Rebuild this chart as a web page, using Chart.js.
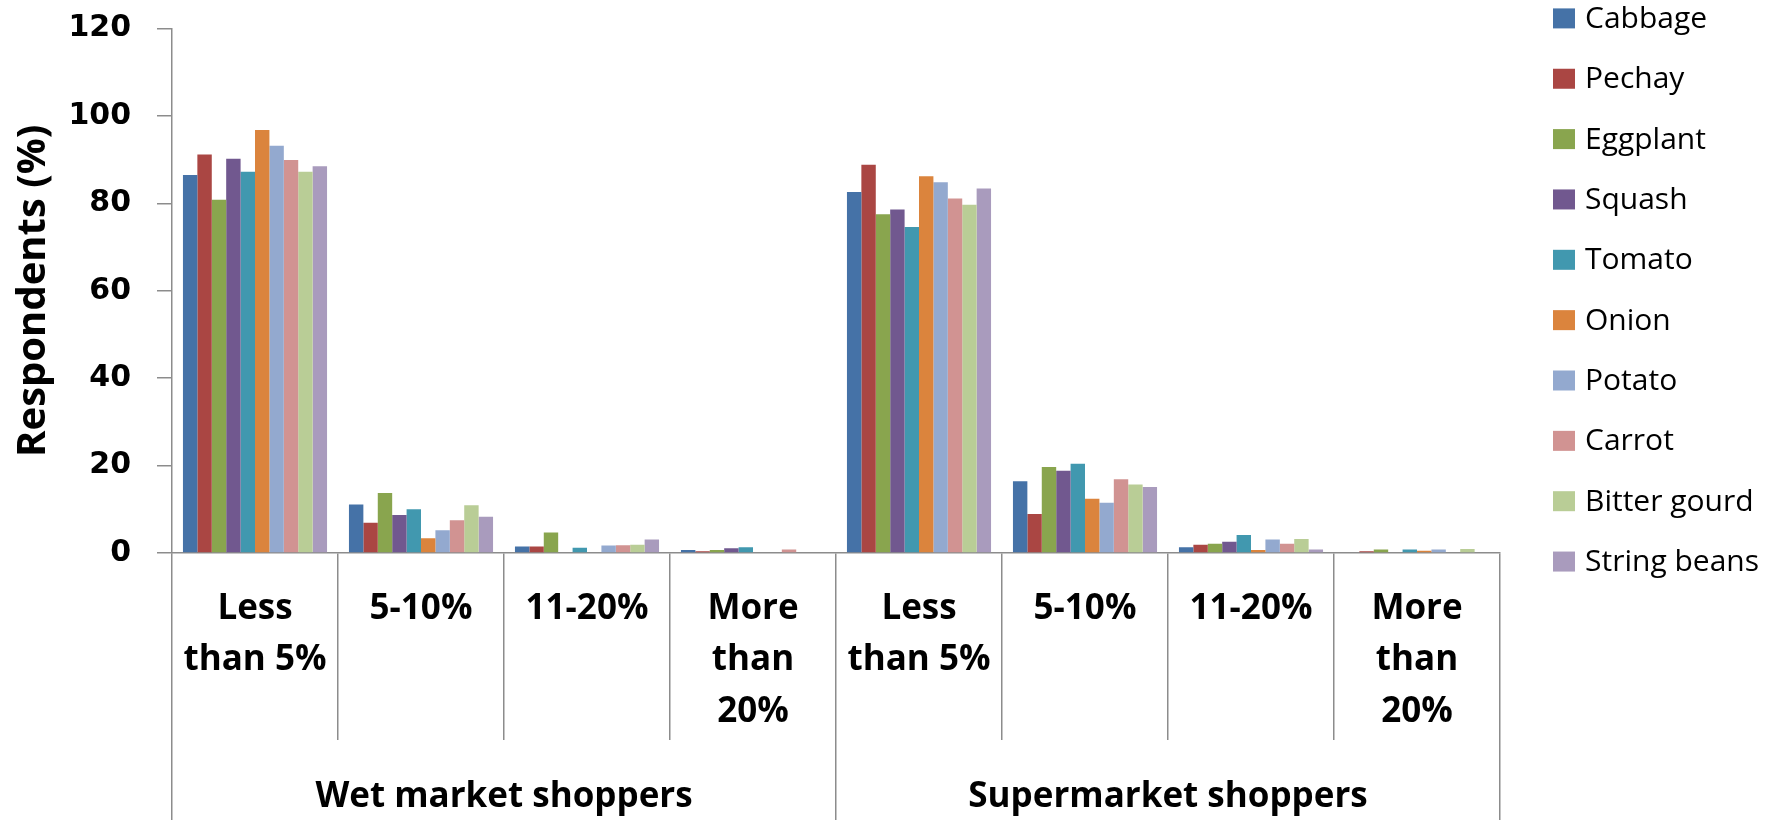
<!DOCTYPE html>
<html>
<head>
<meta charset="utf-8">
<script src="https://cdn.jsdelivr.net/npm/chart.js@4.4.1/dist/chart.umd.min.js"></script>
<style>
  html, body { margin: 0; padding: 0; background: #ffffff; }
  #wrap { width: 1785px; height: 820px; position: relative; }
</style>
</head>
<body>
<div id="wrap"><canvas id="c" width="1785" height="820"></canvas></div>
<script>
// ---- Data ----
const categories = [
  ["Less", "than 5%"], ["5-10%"], ["11-20%"], ["More", "than", "20%"],
  ["Less", "than 5%"], ["5-10%"], ["11-20%"], ["More", "than", "20%"]
];
const groups = ["Wet market shoppers", "Supermarket shoppers"];
const seriesNames = ["Cabbage", "Pechay", "Eggplant", "Squash", "Tomato", "Onion", "Potato", "Carrot", "Bitter gourd", "String beans"];
const cabbage     = [86.5, 11.1, 1.5, 0.7, 82.6, 16.4, 1.3, 0];
const pechay      = [91.2, 6.9, 1.5, 0.4, 88.8, 8.9, 1.9, 0.4];
const eggplant    = [80.8, 13.7, 4.7, 0.7, 77.5, 19.7, 2.1, 0.8];
const squash      = [90.2, 8.7, 0, 1.1, 78.6, 18.8, 2.6, 0];
const tomato      = [87.2, 10.0, 1.2, 1.3, 74.6, 20.4, 4.1, 0.8];
const onion       = [96.8, 3.4, 0, 0, 86.2, 12.4, 0.7, 0.5];
const potato      = [93.2, 5.2, 1.7, 0, 84.8, 11.5, 3.1, 0.8];
const carrot      = [89.9, 7.5, 1.8, 0.8, 81.1, 16.9, 2.1, 0];
const bitterGourd = [87.2, 10.9, 1.9, 0, 79.7, 15.7, 3.2, 0.9];
const stringBeans = [88.5, 8.3, 3.1, 0, 83.4, 15.1, 0.8, 0];
const yTicks = [0, 20, 40, 60, 80, 100, 120];

const seriesValues = [cabbage, pechay, eggplant, squash, tomato, onion, potato, carrot, bitterGourd, stringBeans];
const colors = ["#4572A7", "#AA4643", "#89A54E", "#71588F", "#4198AF", "#DB843D", "#93A9CF", "#D19392", "#B9CD96", "#A99BBD"];

const AXIS = "#8c8c8c";

const legendPlugin = {
  id: "sideLegend",
  afterDraw(chart) {
    const ctx = chart.ctx;
    ctx.save();
    chart.data.datasets.forEach((ds, i) => {
      const cy = 18.4 + i * 60.35;
      ctx.fillStyle = ds.backgroundColor;
      ctx.fillRect(1553, cy - 10, 22, 20);
      ctx.fillStyle = "#000000";
      ctx.font = "30px 'Open Sans'";
      ctx.textBaseline = "middle";
      ctx.textAlign = "left";
      ctx.fillText(ds.label, 1585, cy + 1);
    });
    ctx.restore();
  }
};

new Chart(document.getElementById("c"), {
  type: "bar",
  data: {
    labels: categories,
    datasets: seriesNames.map((name, i) => ({
      label: name,
      data: seriesValues[i],
      backgroundColor: colors[i],
      borderWidth: 0,
      categoryPercentage: 0.868,
      barPercentage: 1.0,
      xAxisID: "x",
      yAxisID: "y"
    }))
  },
  options: {
    responsive: false,
    devicePixelRatio: 1,
    animation: false,
    layout: { padding: { top: 28.5, right: 285, bottom: 0, left: 0 } },
    plugins: {
      legend: { display: false },
      tooltip: { enabled: false },
      title: { display: false }
    },
    scales: {
      y: {
        min: 0, max: 120,
        afterBuildTicks: (scale) => { scale.ticks = yTicks.map(v => ({ value: v })); },
        afterFit: (scale) => { scale.width = 172; scale.paddingTop = 0; scale.paddingBottom = 0; },
        grid: { drawOnChartArea: false, tickLength: 15, color: AXIS, lineWidth: 1.5 },
        border: { color: AXIS, width: 1.5 },
        ticks: {
          color: "#000000",
          padding: 26,
          font: { family: "'DejaVu Sans'", weight: "bold", size: 30 }
        },
        title: {
          display: true,
          text: "Respondents (%)",
          color: "#000000",
          padding: { top: 10, bottom: 0 },
          font: { family: "'Open Sans'", weight: "bold", size: 40, lineHeight: 1.2 }
        }
      },
      x: {
        type: "category",
        offset: true,
        weight: 0,
        afterFit: (scale) => { scale.height = 187; },
        grid: { offset: true, drawOnChartArea: false, tickLength: 187, color: AXIS, lineWidth: 1.5 },
        border: { color: AXIS, width: 1.5 },
        ticks: {
          color: "#000000",
          autoSkip: false,
          maxRotation: 0,
          minRotation: 0,
          padding: -156.75,
          font: { family: "'Open Sans'", weight: "bold", size: 35, lineHeight: 1.47 }
        }
      },
      x2: {
        type: "category",
        position: "bottom",
        labels: groups,
        offset: true,
        weight: 1,
        afterFit: (scale) => { scale.height = 80; },
        grid: { offset: true, drawOnChartArea: false, tickLength: 80, color: AXIS, lineWidth: 1.5 },
        border: { display: false },
        ticks: {
          color: "#000000",
          autoSkip: false,
          maxRotation: 0,
          minRotation: 0,
          padding: -44,
          font: { family: "'Open Sans'", weight: "bold", size: 35, lineHeight: 1.2 }
        }
      }
    }
  },
  plugins: [legendPlugin]
});
</script>
</body>
</html>
